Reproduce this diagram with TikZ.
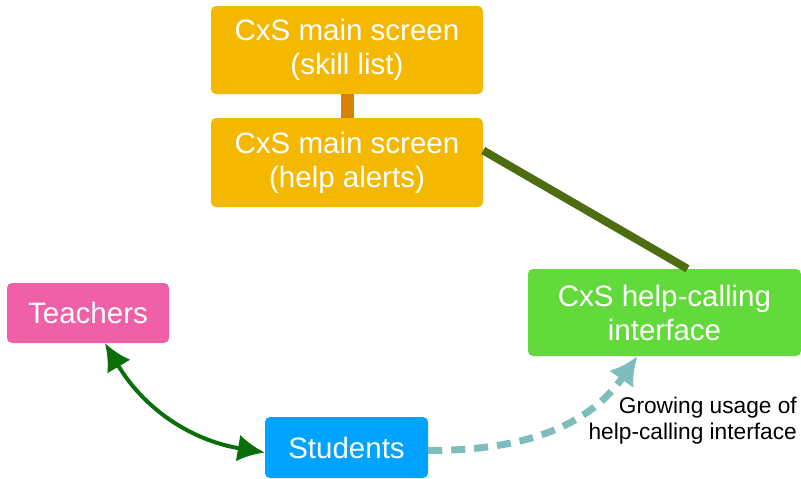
\documentclass[tikz,border=0pt]{standalone}
\usepackage{fontspec}
\setmainfont{Liberation Sans}
\usetikzlibrary{arrows.meta}
\definecolor{boxorange}{HTML}{F5B800}
\definecolor{linkorange}{HTML}{D98100}
\definecolor{linkolive}{HTML}{4E6D13}
\definecolor{boxpink}{HTML}{EF60A8}
\definecolor{boxblue}{HTML}{00A3FF}
\definecolor{boxgreen}{HTML}{63DA3B}
\definecolor{arrowgreen}{HTML}{0A6E0A}
\definecolor{arrowteal}{HTML}{7FBDBD}

\begin{document}
\begin{tikzpicture}[x=1pt,y=-1pt,
    cxsbox/.style={rounded corners=5pt, text=white, align=center, inner sep=0pt,
      font=\fontsize{29.5}{34}\selectfont}]
    \useasboundingbox (0,0) rectangle (801,479);
    % screens of the tool
    \node[cxsbox, fill=boxorange, minimum width=272pt, minimum height=88pt] (skills) at (347,50) {CxS main screen\\(skill list)};
    \node[cxsbox, fill=boxorange, minimum width=272pt, minimum height=89pt] (alerts) at (347,162.5) {CxS main screen\\(help alerts)};
    \node[cxsbox, fill=boxgreen, minimum width=273pt, minimum height=87pt] (helpcall) at (664.5,312.5) {CxS help-calling\\interface};
    % people
    \node[cxsbox, fill=boxpink, minimum width=162pt, minimum height=60pt] (teachers) at (88,313) {Teachers};
    \node[cxsbox, fill=boxblue, minimum width=163pt, minimum height=61pt] (students) at (346.5,447.5) {Students};
    % links
    \draw[linkorange, line width=13pt] (skills.south) -- (alerts.north);
    \draw[linkolive, line width=8pt] ([yshift=12pt]alerts.east) -- ([xshift=23pt]helpcall.north);
    \draw[arrowgreen, line width=4pt, {Latex[length=27pt,width=27pt]}-{Latex[length=27pt,width=27pt]}]
      ([xshift=17pt]teachers.south) to[bend right=25] ([yshift=-5pt]students.west);
    \draw[arrowteal, line width=7pt, dash pattern=on 14pt off 9pt, -{Latex[length=28pt,width=30pt]}]
      ([yshift=-3pt]students.east) to[out=0, in=235] ([xshift=-27pt]helpcall.south);
    \node[align=right, anchor=north east, font=\fontsize{22.7}{26}\selectfont, inner sep=0pt] (usage) at (797,397)
      {Growing usage of\\help-calling interface};
\end{tikzpicture}
\end{document}
